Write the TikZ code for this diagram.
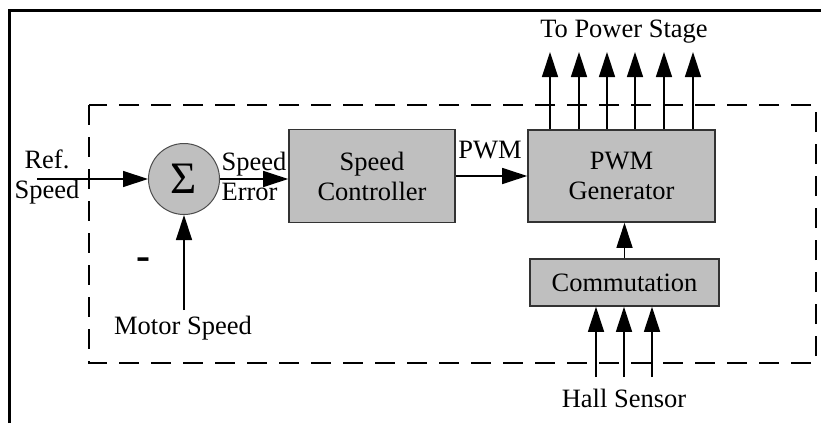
\documentclass[tikz,border=0pt]{standalone}
\usepackage{fontspec}
\setmainfont{Liberation Serif}
\usetikzlibrary{arrows.meta}

\begin{document}
\begin{tikzpicture}[x=1pt,y=-1pt,line width=1.3pt,font=\fontsize{26.5}{30}\selectfont]
    \tikzstyle{block}=[draw=black!80,fill=black!25,line width=1.6pt,align=center,inner sep=0pt]
    \tikzstyle{sum}=[circle,draw=black!70,fill=black!25,line width=1pt,minimum size=71pt,inner sep=0pt]
    \tikzstyle{arr}=[-{Triangle[length=25pt,width=16pt]}]
    \tikzstyle{annot}=[align=center,inner sep=0pt]
    \useasboundingbox (0,0) rectangle (821,423);

    % Draw the frame and the dashed controller border
    \draw[line width=3pt] (9,423) -- (9,10) -- (821,10);
    \draw[dash pattern=on 20pt off 12pt,line width=1.3pt] (89,105) rectangle (816,363);

    % Draw the blocks
    \node[sum] (S) at (184,179) {\fontsize{45}{45}\selectfont Σ};
    \node[block,minimum width=166pt,minimum height=93pt] (SC) at (372,176) {Speed\\Controller};
    \node[block,minimum width=187pt,minimum height=92pt] (PG) at (621.5,176) {PWM\\Generator};
    \node[block,minimum width=189pt,minimum height=47pt] (CM) at (624.5,282.5) {Commutation};

    % Free ends of the connectors
    \coordinate (ref) at (37,179);
    \coordinate (ms) at (184,310);
    \foreach \name / \x in {1/550,2/579,3/607,4/635,5/664,6/693}
        \coordinate (out-\name) at (\x,52);
    \foreach \name / \x in {1/596,2/624,3/652}
        \coordinate (hall-\name) at (\x,377);

    % Connect the blocks
    \draw[arr] (ref) -- (S);
    \draw[arr] (ms) -- (S);
    \draw[arr] (S) -- (S -| SC.west);
    \draw[arr] (SC) -- (PG);
    \draw[arr] (CM.north) -- (CM.north |- PG.south);
    \foreach \name in {1,...,6}
        \draw[arr] (out-\name |- PG.north) -- (out-\name);
    \foreach \name in {1,...,3}
        \draw[arr] (hall-\name) -- (hall-\name |- CM.south);

    % Annotate the signals
    \node[annot] (rs) at (47,177) {Ref.\\Speed};
    \node[annot,anchor=west,align=left] (se) at (221,176) {Speed\\Error};
    \node[annot] (pwm) at (490,150) {PWM};
    \node[annot] (neg) at (143,264) {\fontsize{42}{42}\selectfont\bfseries -};
    \node[annot] (mot) at (183,328) {Motor Speed};
    \node[annot] (tps) at (624,32) {To Power Stage};
    \node[annot] (hs) at (624,398) {Hall Sensor};
\end{tikzpicture}
\end{document}
